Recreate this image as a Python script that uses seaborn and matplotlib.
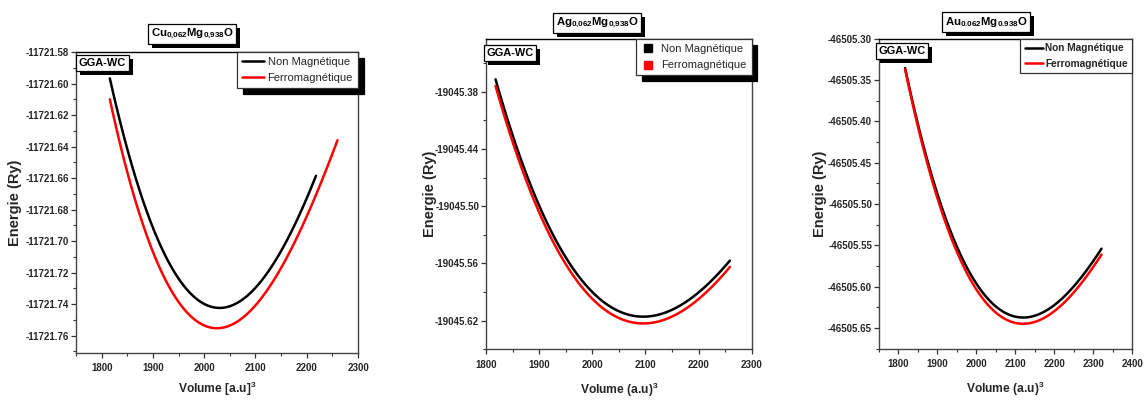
import matplotlib
matplotlib.use("Agg")
import matplotlib.pyplot as plt
from matplotlib import font_manager
from matplotlib.lines import Line2D
from matplotlib.patches import Rectangle
from matplotlib.ticker import FixedLocator, MultipleLocator, FormatStrFormatter
import numpy as np
import seaborn as sns

# ---------------- data ----------------
titles = ["Cu$_{0{,}062}$Mg$_{0{,}938}$O", "Ag$_{0{,}062}$Mg$_{0{,}938}$O", "Au$_{0.062}$Mg$_{0.938}$O"]
xlabels = ["Volume [a.u]$^3$", "Volume (a.u)$^3$", "Volume (a.u)$^3$"]
series_names = ["Non Magnétique", "Ferromagnétique"]

# Cu0.062Mg0.938O
cu_v_nm = [1816, 1840, 1860, 1880, 1900, 1925, 1950, 1975, 2000, 2030, 2060, 2090, 2120, 2150, 2175, 2200, 2218]
cu_e_nm = [-11721.5967, -11721.6293, -11721.6530, -11721.6737, -11721.6915, -11721.7097, -11721.7238,
           -11721.7337, -11721.7399, -11721.7424, -11721.7400, -11721.7329, -11721.7216, -11721.7063,
           -11721.6907, -11721.6728, -11721.6586]
cu_v_fm = [1816, 1840, 1860, 1880, 1900, 1925, 1950, 1975, 2000, 2025, 2050, 2080, 2110, 2140, 2170, 2200, 2230, 2260]
cu_e_fm = [-11721.6100, -11721.6436, -11721.6679, -11721.6889, -11721.7068, -11721.7249, -11721.7386,
           -11721.7480, -11721.7535, -11721.7553, -11721.7536, -11721.7473, -11721.7368, -11721.7226,
           -11721.7049, -11721.6843, -11721.6612, -11721.6360]

# Ag0.062Mg0.938O
ag_v = [1818, 1840, 1860, 1880, 1900, 1925, 1950, 1975, 2000, 2025, 2050, 2075, 2096, 2120, 2150, 2180, 2210, 2240, 2259]
ag_e_nm = [-19045.3670, -19045.4081, -19045.4418, -19045.4722, -19045.4993, -19045.5288, -19045.5536,
           -19045.5739, -19045.5900, -19045.6019, -19045.6101, -19045.6146, -19045.6158, -19045.6143,
           -19045.6086, -19045.5989, -19045.5856, -19045.5690, -19045.5570]
ag_e_fm = [-19045.3740, -19045.4151, -19045.4489, -19045.4793, -19045.5064, -19045.5359, -19045.5607,
           -19045.5810, -19045.5971, -19045.6090, -19045.6172, -19045.6217, -19045.6229, -19045.6214,
           -19045.6157, -19045.6059, -19045.5925, -19045.5758, -19045.5636]

# Au0.062Mg0.938O
au_v = [1817, 1840, 1860, 1880, 1900, 1925, 1950, 1975, 2000, 2030, 2060, 2090, 2120, 2150, 2180, 2210, 2240, 2270, 2300, 2321]
au_e_nm = [-46505.3356, -46505.3841, -46505.4222, -46505.4568, -46505.4880, -46505.5223, -46505.5517,
           -46505.5763, -46505.5964, -46505.6149, -46505.6276, -46505.6349, -46505.6373, -46505.6351,
           -46505.6286, -46505.6184, -46505.6048, -46505.5881, -46505.5688, -46505.5540]
au_e_fm = [-46505.3370, -46505.3865, -46505.4255, -46505.4610, -46505.4930, -46505.5280, -46505.5580,
           -46505.5830, -46505.6035, -46505.6222, -46505.6350, -46505.6424, -46505.6448, -46505.6426,
           -46505.6360, -46505.6258, -46505.6120, -46505.5953, -46505.5760, -46505.5610]

# axis settings
xlims = [(1750, 2300), (1800, 2300), (1750, 2400)]
ylims = [(-11721.771, -11721.58), (-19045.65, -19045.325), (-46505.675, -46505.30)]
yticks = [[-11721.76, -11721.74, -11721.72, -11721.70, -11721.68, -11721.66, -11721.64, -11721.62, -11721.60, -11721.58],
          [-19045.62, -19045.56, -19045.50, -19045.44, -19045.38],
          [-46505.65, -46505.60, -46505.55, -46505.50, -46505.45, -46505.40, -46505.35, -46505.30]]

# ---------------- style ----------------
sns.set_theme(style="ticks")
names = {f.name for f in font_manager.fontManager.ttflist}
NARROW = "Liberation Sans Narrow" if "Liberation Sans Narrow" in names else "Liberation Sans"
shrink = 1.0 if NARROW == "Liberation Sans Narrow" else 0.88
WIDE = "Liberation Sans" if "Liberation Sans" in names else "DejaVu Sans"
plt.rcParams["font.family"] = [NARROW, "DejaVu Sans"]
plt.rcParams["mathtext.fontset"] = "custom"
plt.rcParams["mathtext.rm"] = NARROW
plt.rcParams["mathtext.bf"] = NARROW + ":bold"
plt.rcParams["mathtext.default"] = "bf"

W, H = 1144, 400
fig = plt.figure(figsize=(W / 100, H / 100), dpi=100)

# axes boxes in pixels (left, right, top, bottom)
boxes = [(76, 358, 52, 353), (486, 751.7, 39.3, 349.3), (879, 1132.3, 38.7, 348.7)]
title_pos = [(192, 34), (597, 23), (986, 22)]
gga_pos = [(102.5, 63), (510, 53), (902, 51)]
ylabel_x = [-0.19, -0.185, -0.207]
xlabel_y = [-0.09, -0.1, -0.1]

datasets = [
    (cu_v_nm, cu_e_nm, cu_v_fm, cu_e_fm),
    (ag_v, ag_e_nm, ag_v, ag_e_fm),
    (au_v, au_e_nm, au_v, au_e_fm),
]
palette = {"Non Magnétique": "black", "Ferromagnétique": "red"}

boxed_texts = []


def boxed_text(x_px, y_px, s, size, shadow=True):
    xf, yf = x_px / W, 1 - y_px / H
    bb = dict(boxstyle="square,pad=0.25", fc="white", ec="black", lw=0.9)
    t = fig.text(xf, yf, s, ha="center", va="center", fontsize=size, fontweight="bold",
                 color="black", bbox=bb, zorder=6)
    boxed_texts.append((t, shadow))


for i in range(3):
    l, r, t, b = boxes[i]
    ax = fig.add_axes([l / W, 1 - b / H, (r - l) / W, (b - t) / H])
    v_nm, e_nm, v_fm, e_fm = datasets[i]
    sns.regplot(x=np.array(v_nm, float), y=np.array(e_nm, float), order=4, ci=None, scatter=False,
                truncate=True, color=palette[series_names[0]], line_kws={"lw": 1.8}, ax=ax)
    sns.regplot(x=np.array(v_fm, float), y=np.array(e_fm, float), order=4, ci=None, scatter=False,
                truncate=True, color=palette[series_names[1]], line_kws={"lw": 1.8}, ax=ax)
    ax.set_xlim(*xlims[i])
    ax.set_ylim(*ylims[i])
    ax.xaxis.set_major_locator(MultipleLocator(100))
    ax.xaxis.set_minor_locator(MultipleLocator(50))
    yt = yticks[i]
    step = yt[1] - yt[0]
    minors = [v + step / 2 for v in yt[:-1]]
    minors = minors + [yt[0] - step / 2, yt[-1] + step / 2]
    ax.yaxis.set_major_locator(FixedLocator(yt))
    ax.yaxis.set_minor_locator(FixedLocator(minors))
    ax.yaxis.set_major_formatter(FormatStrFormatter("%.2f"))
    ax.tick_params(axis="both", which="major", direction="out", length=3.5, width=0.9,
                   labelsize=8.0 * shrink, color="#333333")
    ax.tick_params(axis="both", which="minor", direction="out", length=2, width=0.8, color="#333333")
    ax.tick_params(axis="y", which="major", pad=1.5)
    ax.tick_params(axis="x", which="major", pad=4)
    for lab in ax.get_xticklabels() + ax.get_yticklabels():
        lab.set_fontweight("bold")
    for sp in ax.spines.values():
        sp.set_visible(True)
        sp.set_color("#444444")
        sp.set_linewidth(1.0)
    ax.spines["top"].set_color("black")

    ax.set_xlabel(xlabels[i], fontsize=9.8 * shrink, fontweight="bold")
    ax.xaxis.set_label_coords(0.5, xlabel_y[i])
    ax.set_ylabel("Energie (Ry)", fontsize=10.5, fontweight="bold", family=[WIDE, "DejaVu Sans"])
    ax.yaxis.set_label_coords(ylabel_x[i], 0.5)

    # legend
    if i == 1:
        handles = [Line2D([], [], marker="s", ls="none", color=palette[n], markersize=5.5) for n in series_names]
        hl, htp = 1.2, 0.6
        size, weight = 8.0, "normal"
    elif i == 0:
        handles = [Line2D([], [], color=palette[n], lw=1.8) for n in series_names]
        hl, htp = 2.0, 0.3
        size, weight = 8.0, "normal"
    else:
        handles = [Line2D([], [], color=palette[n], lw=1.8) for n in series_names]
        hl, htp = 1.8, 0.2
        size, weight = 7.3, "bold"
    shadow = {"ox": 4, "oy": -4, "facecolor": "black", "edgecolor": "black", "alpha": 1} if i < 2 else False
    leg = ax.legend(handles, series_names, loc="upper right", bbox_to_anchor=(1.0, 1.0),
                    borderaxespad=0.0, frameon=True, fancybox=False, shadow=shadow,
                    handlelength=hl, handletextpad=htp, labelspacing=0.55,
                    borderpad=0.45, prop={"family": [WIDE, "DejaVu Sans"], "size": size,
                                          "weight": weight})
    leg.get_frame().set_edgecolor("#333333")
    leg.get_frame().set_linewidth(0.9)
    leg.get_frame().set_alpha(1)
    leg.set_zorder(10)

    boxed_text(*title_pos[i], titles[i], 9.3 * shrink)
    boxed_text(*gga_pos[i], "GGA-WC", 9 * shrink)

# shadows behind boxed texts
fig.canvas.draw()
renderer = fig.canvas.get_renderer()
inv = fig.transFigure.inverted()
for t, sh in boxed_texts:
    if not sh:
        continue
    bb = t.get_bbox_patch().get_window_extent(renderer)
    (x0, y0), (x1, y1) = inv.transform([(bb.x0 + 4, bb.y0 - 4), (bb.x1 + 4, bb.y1 - 4)])
    fig.add_artist(Rectangle((x0, y0), x1 - x0, y1 - y0, transform=fig.transFigure,
                             fc="black", ec="black", lw=0, zorder=5))

fig.savefig("out.png", dpi=100)
